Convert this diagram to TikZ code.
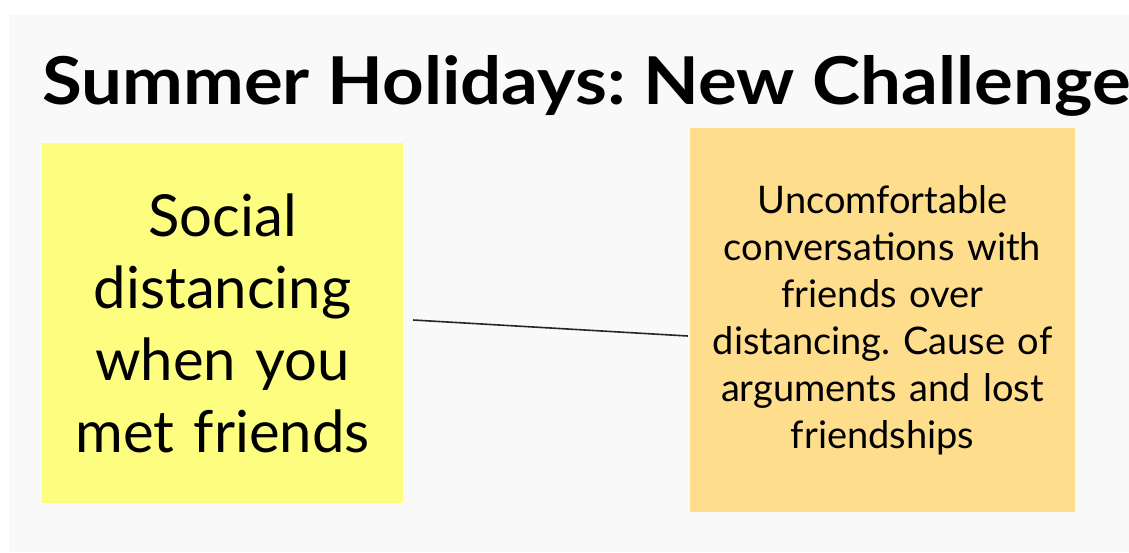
\documentclass[tikz,border=0pt]{standalone}
\usepackage{fontspec}
\setmainfont{Lato}
\usepackage{xcolor}
\definecolor{panelgray}{HTML}{F9F9F9}
\definecolor{noteyellow}{HTML}{FDFD80}
\definecolor{noteorange}{HTML}{FEDE8C}
\frenchspacing

\tikzset{
  note/.style={shape=rectangle,inner sep=0pt,align=center,text=black},
  bignote/.style={note,fill=noteyellow,minimum width=361pt,minimum height=360pt,
    text width=350pt,font=\fontsize{58}{72}\selectfont},
  smallnote/.style={note,fill=noteorange,minimum width=385pt,minimum height=384pt,
    text width=375pt,font=\fontsize{38}{47}\selectfont},
}

\begin{document}
\begin{tikzpicture}[x=1pt,y=-1pt]
  \useasboundingbox (0,0) rectangle (1129,552);
  \fill[white] (0,0) rectangle (1129,552);
  \fill[panelgray] (9,15) rectangle (1129,552);
  \node[anchor=base west,inner sep=0pt,font=\fontsize{66}{70}\selectfont\bfseries] (title) at (42,104) {\scalebox{1.1}[1]{Summer Holidays: New Challenge}};
  \node[bignote] (social) at (222.5,323) {Social\\distancing\\when you\\met friends};
  \node[smallnote] (talks) at (882.5,320) {Uncomfortable\\conversations with\\friends over\\distancing. Cause of\\arguments and lost\\friendships};
  \draw[line width=1.6pt,black!85] ([xshift=10pt,yshift=3pt]social.east) -- ([xshift=-2pt,yshift=-16pt]talks.west);
\end{tikzpicture}
\end{document}
